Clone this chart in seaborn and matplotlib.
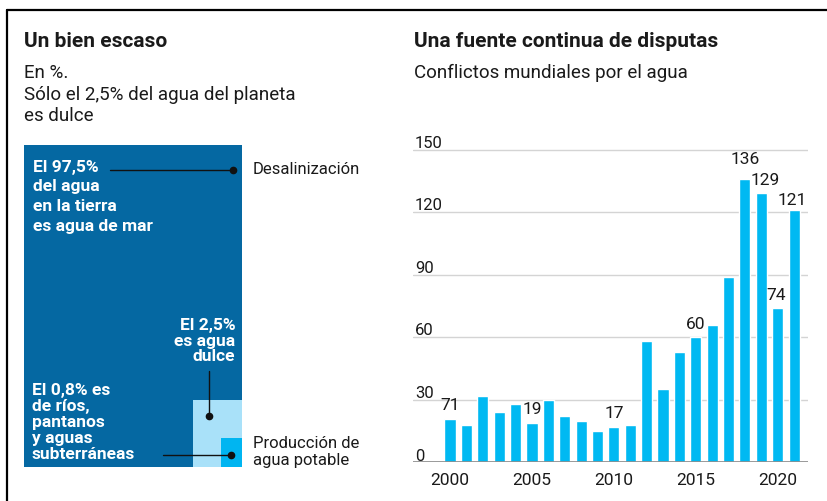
import numpy as np
import pandas as pd
import matplotlib.pyplot as plt
import seaborn as sns
from matplotlib.patches import Rectangle
from matplotlib.lines import Line2D
import matplotlib.transforms as mtransforms

# ---------------- data ----------------
years = list(range(2000, 2022))
conflicts = [21, 18, 32, 24, 28, 19, 30, 22, 20, 15, 17, 18,
             58, 35, 53, 60, 66, 89, 136, 129, 74, 121]
label_years = [2000, 2005, 2010, 2015, 2018, 2019, 2020, 2021]
label_texts = ["71", "19", "17", "60", "136", "129", "74", "121"]
y_ticks = [0, 30, 60, 90, 120, 150]
x_tick_years = [2000, 2005, 2010, 2015, 2020]

water_shares = [97.5, 2.5, 0.8]   # mar, dulce, ríos/pantanos/subterráneas

# ---------------- style ----------------
sns.set_theme(style="white")
plt.rcParams['font.family'] = ['Roboto', 'DejaVu Sans']

DARK = "#0568a2"
LIGHT = "#a9e1f9"
BRIGHT = "#00b5f1"
BAR = "#00b9f2"
INK = "#1a1a1a"

W, H = 828, 502
fig = plt.figure(figsize=(W / 100, H / 100), dpi=100)


def fx(x):
    return x / W


def fy(y):
    return 1 - y / H


# frame (top and left rules)
fig.add_artist(Line2D([fx(7), 1], [fy(11), fy(11)], color="black", lw=1.6))
fig.add_artist(Line2D([fx(7), fx(7)], [fy(11), 0], color="black", lw=1.6))

# ---------------- left panel ----------------
fig.text(fx(24), fy(47), "Un bien escaso", fontsize=15, fontweight="bold",
         color=INK, va="baseline")
fig.text(fx(24), fy(78), "En %.", fontsize=13.5, color=INK, va="baseline")
fig.text(fx(24), fy(99.5), "Sólo el 2,5% del agua del planeta", fontsize=13.5,
         color=INK, va="baseline")
fig.text(fx(24), fy(121), "es dulce", fontsize=13.5, color=INK, va="baseline")

axl = fig.add_axes([fx(24), fy(468), 218 / W, 322 / H])
axl.set_xlim(0, 1)
axl.set_ylim(0, 1)
axl.axis("off")

# nested boxes anchored at the bottom-right corner, scaled for visibility
cols = [DARK, LIGHT, BRIGHT]
for share, c in zip(water_shares, cols):
    if share == max(water_shares):
        w = h = 1.0
    else:
        w = 0.113 * share ** 0.75
        h = 0.105 * share ** 0.75
    axl.add_patch(Rectangle((1 - w, 0), w, h, color=c, lw=0))

white_kw = dict(color="white", fontsize=12.5, fontweight="bold")
axl.text(0.041, 0.958, "El 97,5%\ndel agua\nen la tierra\nes agua de mar",
         va="top", ha="left", linespacing=1.4, **white_kw)
axl.text(0.97, 0.465, "El 2,5%\nes agua\ndulce",
         va="top", ha="right", linespacing=1.05, **white_kw)
axl.text(0.035, 0.265, "El 0,8% es\nde ríos,\npantanos\ny aguas\nsubterráneas",
         va="top", ha="left", linespacing=1.1, **white_kw)

# leader lines
axl.plot([0.394, 0.957], [0.921, 0.921], color="#111111", lw=1)
axl.plot([0.957], [0.921], "o", color="#111111", ms=4.5)
axl.plot([0.85, 0.85], [0.298, 0.157], color="#111111", lw=1)
axl.plot([0.85], [0.157], "o", color="#111111", ms=4.5)
axl.plot([0.639, 0.948], [0.037, 0.037], color="#111111", lw=1)
axl.plot([0.948], [0.037], "o", color="#111111", ms=4.5)

fig.text(fx(253), fy(170), "Desalinización", fontsize=12, color=INK, va="center")
fig.text(fx(253), fy(452), "Producción de\nagua potable", fontsize=12,
         color=INK, va="center", linespacing=1.1)

# ---------------- right panel ----------------
fig.text(fx(414), fy(47), "Una fuente continua de disputas", fontsize=15,
         fontweight="bold", color=INK, va="baseline")
fig.text(fx(414), fy(78), "Conflictos mundiales por el agua", fontsize=13.5,
         color=INK, va="baseline")

df = pd.DataFrame({"year": years, "conflicts": conflicts})

y_top = 152
ax = fig.add_axes([fx(413), fy(463.3), 395 / W, (y_top * 2.084) / H])
sns.barplot(data=df, x="year", y="conflicts", color=BAR, saturation=1,
            width=0.68, ax=ax, zorder=3)

ax.set_xlim(-2.26, 21.85)
ax.set_ylim(0, y_top)
ax.set_xlabel("")
ax.set_ylabel("")
for s in ax.spines.values():
    s.set_visible(False)

ax.set_yticks(y_ticks)
ax.yaxis.grid(True, color="#d4d4d4", lw=1)
ax.set_axisbelow(True)
ax.tick_params(axis="y", left=False, labelleft=False)
ax.axhline(0, color="#8a8a8a", lw=1.2, zorder=4)

trans = mtransforms.blended_transform_factory(ax.transAxes, ax.transData)
for t in y_ticks:
    ax.annotate(str(t), xy=(0.005, t), xycoords=trans, xytext=(0, 2),
                textcoords="offset points", va="baseline", ha="left",
                fontsize=12, color=INK)

ax.set_xticks([years.index(y) for y in x_tick_years])
ax.set_xticklabels([str(y) for y in x_tick_years], fontsize=12.5, color=INK)
ax.tick_params(axis="x", length=0, pad=7)

offsets = {2018: (0, 15), 2019: (3, 10), 2020: (-1, 10), 2021: (-1, 7.5)}
for yr, txt in zip(label_years, label_texts):
    i = years.index(yr)
    dx, dy = offsets.get(yr, (0, 10))
    ax.annotate(txt, xy=(i, conflicts[i]), xytext=(dx, dy),
                textcoords="offset points", ha="center", va="center",
                fontsize=12.5, color=INK, zorder=5)

fig.savefig("out.png", dpi=100)
